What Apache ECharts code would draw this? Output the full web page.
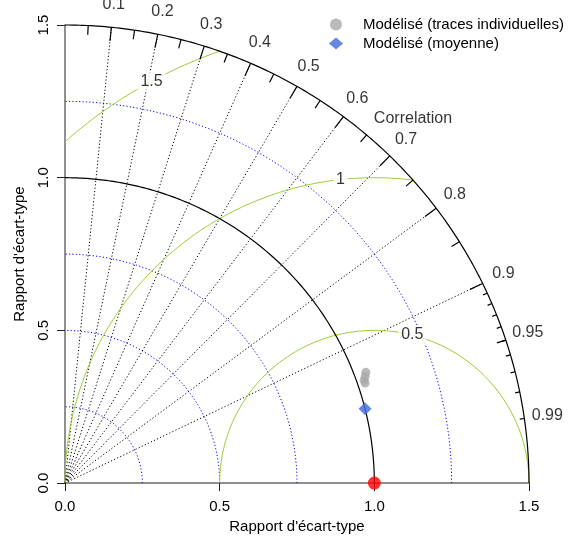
<!DOCTYPE html>
<html><head><meta charset="utf-8">
<script src="https://cdn.jsdelivr.net/npm/echarts@6/dist/echarts.min.js"></script>
<style>html,body{margin:0;padding:0;background:#fff}#c{width:574px;height:539px}</style>
</head><body><div id="c"></div>
<script>
// ---- data ----
const axisTicks = [0, 0.5, 1.0, 1.5];
const axisTickLabels = ['0.0', '0.5', '1.0', '1.5'];
const maxSd = 1.5;
const refArc = 1.0;
const corrLines = [0.1, 0.2, 0.3, 0.4, 0.5, 0.6, 0.7, 0.8, 0.9];
const corrLabels = [0.1, 0.2, 0.3, 0.4, 0.5, 0.6, 0.7, 0.8, 0.9, 0.95, 0.99];
const corrMedTicks = [0.05, 0.15, 0.25, 0.35, 0.45, 0.55, 0.65, 0.75, 0.85, 0.95];
const corrSmallTicks = [0.91, 0.92, 0.93, 0.94, 0.95, 0.96, 0.97, 0.98, 0.99];
const sdArcs = [0.25, 0.5, 0.75, 1.25];
const rmsArcs = [0.5, 1, 1.5];
const rmsLabels = ['0.5', '1', '1.5'];
const rmsLabelAngles = [75.8, 96.3, 118.7];
const traceSd = [1.038, 1.031, 1.024, 1.024];
const traceCorr = [0.937, 0.941, 0.9445, 0.9475];
const meanSd = [1.0];
const meanCorr = [0.970];
const refSd = [1.0];
const refCorr = [1.0];
const nameTraces = 'Modélisé (traces individuelles)';
const nameMean = 'Modélisé (moyenne)';

// ---- helpers ----
const FONT = 'Liberation Sans, Arial, sans-serif';
const rad = d => d * Math.PI / 180;
const polar = (sd, c) => [sd * c, sd * Math.sqrt(Math.max(0, 1 - c * c))];
function arc(cx, r, a0, a1) {
  const pts = [], n = 200;
  for (let i = 0; i <= n; i++) {
    const a = rad(a0 + (a1 - a0) * i / n);
    pts.push([cx + r * Math.cos(a), r * Math.sin(a)]);
  }
  return pts;
}
function lineSeries(data, color, width, type, z) {
  return { type: 'line', data: data, showSymbol: false, symbol: 'none', silent: true, clip: false,
    animation: false, z: z || 2, lineStyle: { color: color, width: width, type: type || 'solid' } };
}
const series = [];
// blue sd arcs
sdArcs.forEach(r => series.push(lineSeries(arc(0, r, 0, 90), '#0000ff', 1, [1.2, 2.2], 2)));
// correlation dotted lines
corrLines.forEach(c => series.push(lineSeries([[0, 0], polar(maxSd, c)], '#000', 1, [1.2, 2.2], 2)));
// green rms arcs
rmsArcs.forEach(r => {
  const cs = Math.min(1, Math.max(-1, (maxSd * maxSd - refArc * refArc - r * r) / (2 * r * refArc)));
  const ce = Math.min(1, Math.max(-1, -refArc / r));
  series.push(lineSeries(arc(refArc, r, Math.acos(cs) * 180 / Math.PI, Math.acos(ce) * 180 / Math.PI), '#9acd32', 1, 'solid', 3));
});
// outer and reference arcs
series.push(lineSeries(arc(0, maxSd, 0, 90), '#000', 1.2, 'solid', 4));
series.push(lineSeries(arc(0, refArc, 0, 90), '#000', 1.2, 'solid', 4));
// ticks on outer arc
corrLines.forEach(c => series.push(lineSeries([polar(maxSd, c), polar(maxSd * 0.97, c)], '#000', 1.2, 'solid', 4)));
corrMedTicks.forEach(c => series.push(lineSeries([polar(maxSd, c), polar(maxSd * 0.98, c)], '#000', 1.2, 'solid', 4)));
corrSmallTicks.forEach(c => series.push(lineSeries([polar(maxSd, c), polar(maxSd * 0.99, c)], '#000', 1.2, 'solid', 4)));

// text labels placed through the axes
const txt = { color: '#000', fontSize: 16, fontFamily: FONT };
const labelData = [];
corrLabels.forEach(c => labelData.push({ value: polar(maxSd * 1.05, c), name: String(c) }));
labelData.push({ value: [1.125, 1.195], name: 'Correlation' });
const rmsLabelData = rmsArcs.map((r, i) => ({
  value: [refArc + r * Math.cos(rad(rmsLabelAngles[i])), r * Math.sin(rad(rmsLabelAngles[i]))],
  name: rmsLabels[i]
}));
series.push({ type: 'scatter', data: labelData, symbolSize: 1, silent: true, clip: false, animation: false, z: 6,
  itemStyle: { color: 'transparent' },
  label: Object.assign({ show: true, position: 'inside', formatter: p => p.name }, txt) });
series.push({ type: 'scatter', data: rmsLabelData, symbolSize: 1, silent: true, clip: false, animation: false, z: 6,
  itemStyle: { color: 'transparent' },
  label: Object.assign({ show: true, position: 'inside', formatter: p => p.name, backgroundColor: '#fff', padding: [1, 3] }, txt) });

// points
series.push({ name: nameTraces, type: 'scatter', symbol: 'circle', symbolSize: 9, clip: false, animation: false, z: 10,
  itemStyle: { color: '#a9a9a9' }, data: traceSd.map((s, i) => polar(s, traceCorr[i])) });
series.push({ name: nameMean, type: 'scatter', symbol: 'diamond', symbolSize: 13, clip: false, animation: false, z: 11,
  itemStyle: { color: '#4169e1' }, data: meanSd.map((s, i) => polar(s, meanCorr[i])) });
series.push({ name: 'Référence', type: 'scatter', symbol: 'circle', symbolSize: 13, clip: false, animation: false, z: 12,
  itemStyle: { color: '#ff0000' }, data: refSd.map((s, i) => polar(s, refCorr[i])) });

const axisCommon = {
  type: 'value', min: 0, max: maxSd, interval: 0.5,
  axisLine: { show: true, onZero: false, lineStyle: { color: '#6b6b6b', width: 1.5 } },
  axisTick: { show: true, length: 8, lineStyle: { color: '#222', width: 1 } },
  splitLine: { show: false },
  name: "Rapport d'écart-type", nameLocation: 'middle',
  nameTextStyle: { color: '#000', fontSize: 15, fontFamily: FONT }
};
const option = {
  backgroundColor: '#fff',
  animation: false,
  grid: { left: 65, top: 25, width: 464, height: 464, containLabel: false },
  xAxis: Object.assign({}, axisCommon, {
    nameGap: 33,
    axisLabel: { formatter: v => axisTickLabels[axisTicks.indexOf(v)], color: '#000', fontSize: 15, fontFamily: FONT, margin: 16 }
  }),
  yAxis: Object.assign({}, axisCommon, {
    nameGap: 38,
    axisLabel: { formatter: v => axisTickLabels[axisTicks.indexOf(v)], color: '#000', fontSize: 15, fontFamily: FONT, margin: 14, rotate: 90 }
  }),
  legend: {
    data: [{ name: nameTraces, icon: 'circle' }, { name: nameMean, icon: 'diamond' }],
    orient: 'vertical', left: 329, top: 17, padding: 0,
    itemWidth: 14, itemHeight: 12, itemGap: 4,
    textStyle: { color: '#000', fontSize: 15, fontFamily: FONT, padding: [0, 0, 0, 15] }, selectedMode: false
  },
  series: series
};
const chart = echarts.init(document.getElementById('c'), null, { renderer: 'canvas' });
chart.setOption(option);
</script></body></html>
